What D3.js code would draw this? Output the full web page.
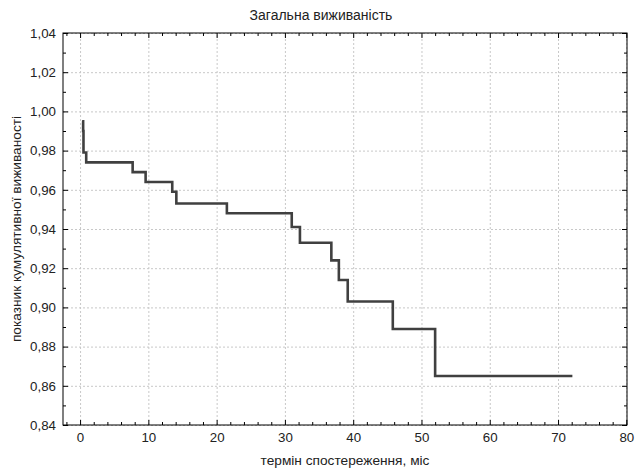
<!DOCTYPE html>
<meta charset="utf-8">
<script src="https://d3js.org/d3.v7.min.js"></script>
<style>
body { margin: 0; background: #fff; }
text { font-family: "Liberation Sans", Arial, sans-serif; fill: #222; }
.grid line { stroke: #c8c8c8; stroke-dasharray: 2,2; }
.grid path { display: none; }
.ax path { display: none; }
.ax line { stroke: #000; }
</style>
<div id="chart"></div>
<script>

// survival curve (months, cumulative survival)
var times = [0.3, 0.45, 0.5, 0.9, 7.7, 9.6, 13.5, 14.1, 21.5, 31.0, 32.2, 36.8, 37.9, 39.2, 45.8, 52.0, 72.1];
var survival = [0.995, 0.990, 0.979, 0.974, 0.969, 0.964, 0.959, 0.953, 0.948, 0.941, 0.933, 0.924, 0.914, 0.903, 0.889, 0.865, 0.865];

var xTicks = [0, 10, 20, 30, 40, 50, 60, 70, 80];
var yTicks = [0.84, 0.86, 0.88, 0.90, 0.92, 0.94, 0.96, 0.98, 1.00, 1.02, 1.04];

var W = 635, H = 469;
var margin = {top: 33, right: 8, bottom: 44, left: 63};
var width = W - margin.left - margin.right,
    height = H - margin.top - margin.bottom;

var svg = d3.select("#chart").append("svg")
    .attr("width", W)
    .attr("height", H);

var g = svg.append("g")
    .attr("transform", "translate(" + margin.left + "," + margin.top + ")");

var x = d3.scaleLinear().domain([-2.5, 80.1]).range([0, width]);
var y = d3.scaleLinear().domain([0.84, 1.04]).range([height, 0]);

var fmt = function(d) { return d.toFixed(2).replace(".", ","); };

// grid
g.append("g").attr("class", "grid")
  .attr("transform", "translate(0," + height + ")")
  .call(d3.axisBottom(x).tickValues(xTicks).tickSize(-height).tickFormat(""));
g.append("g").attr("class", "grid")
  .call(d3.axisLeft(y).tickValues(yTicks).tickSize(-width).tickFormat(""));

// minor ticks
var xMinor = d3.range(-2, 81, 2).filter(function(d) { return d % 10 !== 0; });
var yMinor = d3.range(0.85, 1.04, 0.02);

function inner(axisFn, scale, vals, size) {
  return axisFn(scale).tickValues(vals).tickSizeInner(size).tickSizeOuter(0).tickFormat("");
}

// bottom
g.append("g").attr("class", "ax").attr("transform", "translate(0," + height + ")")
  .call(inner(d3.axisBottom, x, xMinor, -3));
g.append("g").attr("class", "ax").attr("transform", "translate(0," + height + ")")
  .call(d3.axisBottom(x).tickValues(xTicks).tickSizeInner(-5).tickSizeOuter(0).tickPadding(8)
        .tickFormat(function(d) { return d; }))
  .selectAll("text").style("font-size", "13.3px");
// top
g.append("g").attr("class", "ax").call(inner(d3.axisTop, x, xMinor, -3));
g.append("g").attr("class", "ax").call(inner(d3.axisTop, x, xTicks, -5));
// left
g.append("g").attr("class", "ax").call(inner(d3.axisLeft, y, yMinor, -3));
g.append("g").attr("class", "ax")
  .call(d3.axisLeft(y).tickValues(yTicks).tickSizeInner(-5).tickSizeOuter(0).tickPadding(7).tickFormat(fmt))
  .selectAll("text").style("font-size", "13.3px");
// right
g.append("g").attr("class", "ax").attr("transform", "translate(" + width + ",0)")
  .call(inner(d3.axisRight, y, yMinor, -3));
g.append("g").attr("class", "ax").attr("transform", "translate(" + width + ",0)")
  .call(inner(d3.axisRight, y, yTicks, -5));

// frame
g.append("rect")
  .attr("width", width).attr("height", height)
  .attr("fill", "none").attr("stroke", "#000").attr("stroke-width", 1);

// survival step line
var pts = times.map(function(t, i) { return [t, survival[i]]; });
g.append("path")
  .datum(pts)
  .attr("fill", "none")
  .attr("stroke", "#404040")
  .attr("stroke-width", 2.6)
  .attr("d", d3.line()
    .x(function(d) { return x(d[0]); })
    .y(function(d) { return y(d[1]); })
    .curve(d3.curveStepAfter));

// titles
svg.append("text")
  .attr("x", 321).attr("y", 20)
  .attr("text-anchor", "middle").style("font-size", "14px")
  .text("Загальна виживаність");

svg.append("text")
  .attr("x", margin.left + width / 2).attr("y", 465)
  .attr("text-anchor", "middle").style("font-size", "13.7px")
  .text("термін спостереження, міс");

svg.append("text")
  .attr("transform", "translate(21," + (margin.top + height / 2) + ") rotate(-90)")
  .attr("text-anchor", "middle").style("font-size", "13.7px")
  .text("показник кумулятивної виживаності");

</script>
